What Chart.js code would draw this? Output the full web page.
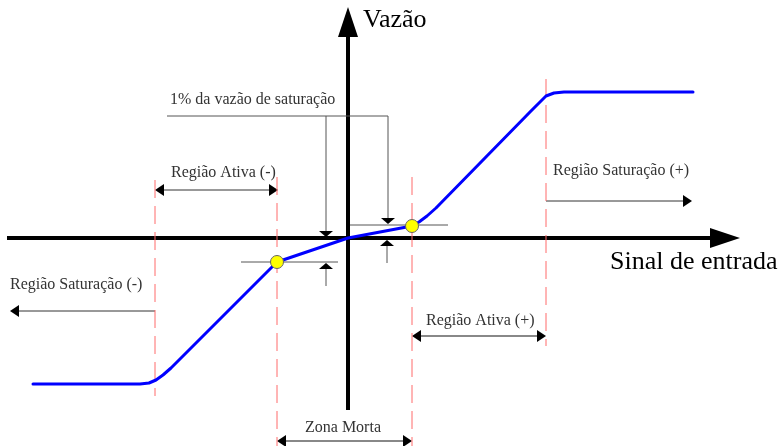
<!DOCTYPE html>
<html>
<head>
<meta charset="utf-8">
<script src="https://cdn.jsdelivr.net/npm/chart.js@4.4.0/dist/chart.umd.min.js"></script>
<style>
  body { margin: 0; background: #fff; }
  #wrap { width: 780px; height: 446px; }
</style>
</head>
<body>
<div id="wrap"><canvas id="valveChart"></canvas></div>
<script>
// Valve flow (Vazão) vs input signal, origin where the axes cross

// blue characteristic curve
const signal = [-315, -208, -199, -192, -185, -177, -71, 0, 64, 71, 79, 88, 182, 190, 198, 206, 216, 345];
const flow   = [-146, -146, -145, -142, -137, -130, -24, 0, 12, 16, 22, 30, 126, 134, 142, 145, 146, 146];

// yellow markers at the dead-zone edges
const markSignal = [-71, 64];
const markFlow = [-24, 12];

// red dashed region limits
const limitSignal = [-193, -71, 64, 198];
const limitTop = [58, 61, 61, 159];
const limitBottom = [-158, -208, -208, -108];

// texts
const labels = [
    { text: 'Vazão', x: 15, y: 218, size: 26 },
    { text: 'Sinal de entrada', x: 262, y: -24, size: 26 },
    { text: '1% da vazão de saturação', x: -178, y: 138, size: 16 },
    { text: 'Região Ativa (-)', x: -177, y: 65, size: 16 },
    { text: 'Região Saturação (+)', x: 205, y: 67, size: 16 },
    { text: 'Região Saturação (-)', x: -338, y: -47, size: 16 },
    { text: 'Região Ativa (+)', x: 78, y: -83, size: 16 },
    { text: 'Zona Morta', x: -43, y: -190, size: 16 }
];

// guide lines and arrows: x1, y1, x2, y2, colour, width, heads, head length, head half-width
const guides = [
    [-341, 0, 392, 0, '#000', 4, 'end', 30, 10],
    [0, -172, 0, 231, '#000', 4, 'end', 30, 10],
    [-181, 122, 40, 122, '#555', 1, 'none'],
    [-22, 122, -22, 1, '#555', 1, 'end', 6, 7],
    [40, 122, 40, 14, '#555', 1, 'end', 6, 7],
    [2, 13, 100, 13, '#555', 1, 'none'],
    [-107, -24, -10, -24, '#555', 1, 'none'],
    [39, -25, 39, -2, '#555', 1, 'end', 6, 7],
    [-22, -48, -22, -25, '#555', 1, 'end', 6, 7],
    [-193, 48, -70, 48, '#333', 1, 'both', 9, 6],
    [64, -98, 198, -98, '#888', 2, 'both', 9, 6],
    [-71, -203, 64, -203, '#888', 2, 'both', 9, 6],
    [198, 37, 344, 37, '#333', 1, 'end', 9, 6],
    [-193, -73, -338, -73, '#333', 1, 'end', 9, 6]
];

const drawHead = (c, fx, fy, tx, ty, len, half) => {
    const a = Math.atan2(ty - fy, tx - fx);
    const bx = tx - len * Math.cos(a), by = ty - len * Math.sin(a);
    c.beginPath();
    c.moveTo(tx, ty);
    c.lineTo(bx + half * Math.sin(a), by - half * Math.cos(a));
    c.lineTo(bx - half * Math.sin(a), by + half * Math.cos(a));
    c.closePath();
    c.fill();
    return [bx, by];
};

const diagramPlugin = {
    id: 'diagram',
    beforeDatasetsDraw(chart) {
        const c = chart.ctx;
        const sx = chart.scales.x, sy = chart.scales.y;
        c.save();
        guides.forEach(([x1, y1, x2, y2, color, width, heads, len, half]) => {
            let ax = sx.getPixelForValue(x1), ay = sy.getPixelForValue(y1);
            let bx = sx.getPixelForValue(x2), by = sy.getPixelForValue(y2);
            c.fillStyle = '#000';
            let start = [ax, ay], end = [bx, by];
            if (heads === 'end' || heads === 'both') end = drawHead(c, ax, ay, bx, by, len, half);
            if (heads === 'both') start = drawHead(c, bx, by, ax, ay, len, half);
            c.strokeStyle = color;
            c.lineWidth = width;
            c.beginPath();
            c.moveTo(start[0], start[1]);
            c.lineTo(end[0], end[1]);
            c.stroke();
        });
        c.textBaseline = 'middle';
        c.textAlign = 'left';
        labels.forEach(l => {
            c.font = l.size + 'px "Liberation Serif", "DejaVu Serif", serif';
            c.fillStyle = l.size > 20 ? '#000' : '#333';
            c.fillText(l.text, sx.getPixelForValue(l.x), sy.getPixelForValue(l.y));
        });
        c.restore();
    }
};

const limitSets = limitSignal.map((x, i) => ({
    data: [{ x: x, y: limitTop[i] }, { x: x, y: limitBottom[i] }],
    showLine: true,
    borderColor: '#ff6a6a',
    borderWidth: 1,
    borderDash: [18, 8],
    pointRadius: 0,
    clip: false
}));

const ctx = document.getElementById('valveChart').getContext('2d');
const valveChart = new Chart(ctx, {
    type: 'scatter',
    data: {
        datasets: [{
            data: markSignal.map((x, i) => ({ x: x, y: markFlow[i] })),
            pointRadius: 6.5,
            pointBackgroundColor: '#ffff00',
            pointBorderColor: '#666',
            pointBorderWidth: 1,
            clip: false
        }, {
            data: signal.map((x, i) => ({ x: x, y: flow[i] })),
            showLine: true,
            borderColor: '#0000ff',
            borderWidth: 3,
            borderJoinStyle: 'round',
            borderCapStyle: 'round',
            pointRadius: 0,
            tension: 0,
            clip: false
        }, ...limitSets]
    },
    options: {
        responsive: true,
        maintainAspectRatio: false,
        animation: false,
        devicePixelRatio: 1,
        layout: { padding: 0, autoPadding: false },
        plugins: {
            legend: { display: false },
            tooltip: { enabled: false }
        },
        scales: {
            x: { type: 'linear', min: -348, max: 432, display: false },
            y: { type: 'linear', min: -208, max: 238, display: false }
        }
    },
    plugins: [diagramPlugin]
});
</script>
</body>
</html>
